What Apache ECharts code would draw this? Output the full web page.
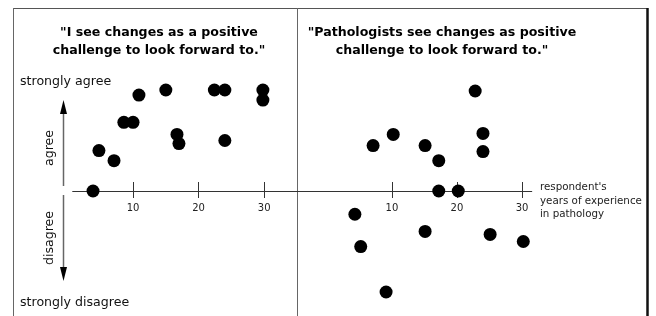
<!DOCTYPE html>
<html>
<head>
<meta charset="utf-8">
<script src="https://cdn.jsdelivr.net/npm/echarts@6/dist/echarts.min.js"></script>
<style>
  html, body { margin: 0; padding: 0; background: #fff; }
  #chart { width: 656px; height: 316px; }
</style>
</head>
<body>
<div id="chart"></div>
<script>
// years of experience / agreement (-10 strongly disagree .. 10 strongly agree)
var selfData = [
  [10.9, 9.5], [15.0, 10.0], [22.4, 10.0], [24.0, 10.0], [29.8, 10.0], [29.8, 9.0],
  [8.6, 6.8], [10.0, 6.8], [16.7, 5.6], [17.0, 4.7], [24.0, 5.0],
  [4.8, 4.0], [7.1, 3.0], [3.9, 0]
];
var pathData = [
  [22.8, 9.9], [10.2, 5.6], [7.1, 4.5], [15.1, 4.5], [24.0, 5.7], [24.0, 3.9],
  [17.2, 3.0], [17.2, 0], [20.2, 0], [4.3, -2.3], [15.1, -4.0], [5.2, -5.5],
  [25.1, -4.3], [30.2, -5.0], [9.1, -10.0]
];
var tickValues = [10, 20, 30];
var leftTitle = '"I see changes as a positive\nchallenge to look forward to."';
var rightTitle = '"Pathologists see changes as positive\nchallenge to look forward to."';
var xName = "respondent's\nyears of experience\nin pathology";

var font = 'DejaVu Sans';
var gridTop = 90, gridH = 202;
// the x axis sits at y = 0, half way down the grid
var axisShift = -gridH / 2;

var chart = echarts.init(document.getElementById('chart'));

function mainX(gridIndex, min, max) {
  return {
    type: 'value', gridIndex: gridIndex, min: min, max: max,
    position: 'bottom', offset: axisShift,
    splitLine: { show: false },
    axisLine: { onZero: false, lineStyle: { color: '#333', width: 1 } },
    axisTick: { show: true, length: 7, customValues: tickValues, lineStyle: { color: '#333' } },
    axisLabel: { customValues: tickValues, fontSize: 10, fontFamily: font, color: '#222', margin: 12 }
  };
}
function innerX(gridIndex, min, max) {
  return {
    type: 'value', gridIndex: gridIndex, min: min, max: max,
    position: 'bottom', offset: axisShift,
    splitLine: { show: false },
    axisLine: { show: false, onZero: false },
    axisTick: { show: true, inside: true, length: 9, customValues: tickValues, lineStyle: { color: '#333' } },
    axisLabel: { show: false }
  };
}
function hiddenY(gridIndex) {
  return { type: 'value', gridIndex: gridIndex, min: -10, max: 10, show: false };
}
function dots(name, xi, yi, data) {
  return {
    name: name, type: 'scatter', xAxisIndex: xi, yAxisIndex: yi,
    symbolSize: 13, itemStyle: { color: '#000', opacity: 1 }, data: data
  };
}

function arrow(x, y1, y2) {
  var dir = y2 < y1 ? 1 : -1;
  return [
    { type: 'line', shape: { x1: x, y1: y1, x2: x, y2: y2 + dir * 10 }, style: { stroke: '#666', lineWidth: 1.5 } },
    { type: 'polygon', shape: { points: [[x, y2], [x - 3.5, y2 + dir * 14], [x + 3.5, y2 + dir * 14]] }, style: { fill: '#000' } }
  ];
}
var labelStyle = { fontSize: 12.6, fontFamily: font, fill: '#111' };
var titleStyle = { fontSize: 12.6, fontWeight: 'bold', fontFamily: font, color: '#000', lineHeight: 18, align: 'center' };

chart.setOption({
  animation: false,
  title: [
    { text: leftTitle, left: 154, top: 19, textAlign: 'center', textStyle: titleStyle },
    { text: rightTitle, left: 437, top: 19, textAlign: 'center', textStyle: titleStyle }
  ],
  grid: [
    { left: 72.7, width: 224.3, top: gridTop, height: gridH },
    { left: 297, width: 234.75, top: gridTop, height: gridH }
  ],
  xAxis: [
    mainX(0, 0.8, 35),
    mainX(1, -4.6, 31.5),
    innerX(0, 0.8, 35),
    innerX(1, -4.6, 31.5)
  ],
  yAxis: [hiddenY(0), hiddenY(1)],
  series: [
    dots('self', 0, 0, selfData),
    dots('pathologists', 1, 1, pathData)
  ],
  graphic: [
    { type: 'line', shape: { x1: 13, y1: 8.5, x2: 647, y2: 8.5 }, style: { stroke: '#555', lineWidth: 1 } },
    { type: 'line', shape: { x1: 13.5, y1: 8, x2: 13.5, y2: 316 }, style: { stroke: '#666', lineWidth: 1 } },
    { type: 'line', shape: { x1: 297.5, y1: 8, x2: 297.5, y2: 316 }, style: { stroke: '#666', lineWidth: 1 } },
    { type: 'line', shape: { x1: 647.5, y1: 8, x2: 647.5, y2: 316 }, style: { stroke: '#111', lineWidth: 2.5 } },
    { type: 'text', left: 20, top: 75, style: Object.assign({ text: 'strongly agree' }, labelStyle) },
    { type: 'text', left: 20, top: 296, style: Object.assign({ text: 'strongly disagree' }, labelStyle) },
    { type: 'text', x: 50, y: 148, rotation: Math.PI / 2,
      style: Object.assign({ text: 'agree', align: 'center', verticalAlign: 'middle' }, labelStyle) },
    { type: 'text', x: 50, y: 238, rotation: Math.PI / 2,
      style: Object.assign({ text: 'disagree', align: 'center', verticalAlign: 'middle' }, labelStyle) },
    { type: 'text', left: 540, top: 181,
      style: { text: xName, fontSize: 10.3, fontFamily: font, fill: '#222', lineHeight: 13.5 } }
  ].concat(arrow(63.5, 186, 100), arrow(63.5, 195, 281))
});
</script>
</body>
</html>
